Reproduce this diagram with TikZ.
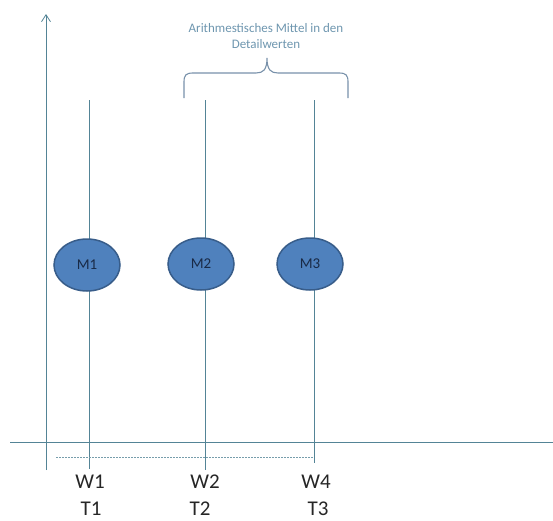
\documentclass[tikz,border=0pt]{standalone}
\usepackage{fontspec}
\setmainfont{Carlito}
\usetikzlibrary{shapes.geometric,arrows.meta}
\definecolor{axcol}{RGB}{84,132,150}
\definecolor{ellfill}{RGB}{79,129,189}
\definecolor{elldraw}{RGB}{56,93,138}
\definecolor{elltext}{RGB}{25,42,70}
\definecolor{bracecol}{RGB}{120,145,170}
\definecolor{notecol}{RGB}{110,150,175}
\tikzset{
  axline/.style={draw=axcol, line width=0.8pt},
  meas/.style={ellipse, fill=ellfill, draw=elldraw, line width=1.5pt, minimum width=66pt, minimum height=52pt, inner sep=0pt, text=elltext, font=\fontsize{15}{16}\selectfont},
  lbl/.style={font=\fontsize{21}{22}\selectfont, text=black!85, inner sep=0pt},
  note/.style={font=\fontsize{13}{15.5}\selectfont, text=notecol, align=center, inner sep=0pt}
}
\begin{document}
\begin{tikzpicture}[x=1pt,y=-1pt]
\useasboundingbox (0,0) rectangle (553,520);
% axes
\coordinate (yb) at (46,470);
\coordinate (yt) at (46,14);
\coordinate (xl) at (10,442);
\coordinate (xr) at (553,442);
\draw[axline, -{Straight Barb[length=7pt,width=9pt]}] (yb) -- (yt);
\draw[axline] (xl) -- (xr);
% vertical lines
\coordinate (t1) at (89,100); \coordinate (b1) at (89,469);
\coordinate (t2) at (205,100); \coordinate (b2) at (205,470);
\coordinate (t3) at (314,100); \coordinate (b3) at (314,463);
\draw[axline] (t1) -- (b1);
\draw[axline] (t2) -- (b2);
\draw[axline] (t3) -- (b3);
% dashed line
\coordinate (dl) at (56,457);
\coordinate (dr) at (313,457);
\draw[axcol!80, line width=0.6pt, dash pattern=on 2pt off 1pt] (dl) -- (dr);
% ellipses
\node[meas] (m1) at (87,265) {M1};
\node[meas] (m2) at (201,264) {M2};
\node[meas] (m3) at (310,264) {M3};
% brace
\coordinate (bl) at (184,98);
\coordinate (br) at (348,98);
\coordinate (btip) at (267,58);
\draw[bracecol, line width=1.1pt] (bl) -- (184,82) .. controls (184,75) and (186,73) .. (193,73) -- (256,73) .. controls (263,73) and (267,70) .. (btip)
  .. controls (267,70) and (271,73) .. (278,73) -- (339,73) .. controls (346,73) and (348,75) .. (348,82) -- (br);
\node[note] (n) at (266,36) {Arithmestisches Mittel in den\\Detailwerten};
% labels
\node[lbl] (w1) at (90,482) {W1};
\node[lbl] (w2) at (205,482) {W2};
\node[lbl] (w4) at (316,482) {W4};
\node[lbl] (T1) at (91,509) {T1};
\node[lbl] (T2) at (200,509) {T2};
\node[lbl] (T3) at (318,509) {T3};
\end{tikzpicture}
\end{document}
